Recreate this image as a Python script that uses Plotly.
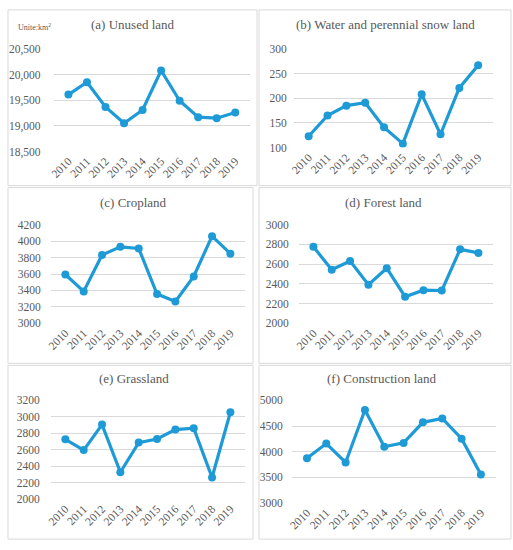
import plotly.graph_objects as go

years = ["2010", "2011", "2012", "2013", "2014", "2015", "2016", "2017", "2018", "2019"]

unused_land = [19610, 19850, 19370, 19050, 19310, 20080, 19490, 19170, 19150, 19260]
water_snow_land = [123, 165, 185, 191, 141, 108, 208, 127, 221, 267]
cropland = [3594, 3388, 3832, 3931, 3911, 3357, 3265, 3570, 4061, 3848]
forest_land = [2776, 2543, 2632, 2391, 2559, 2270, 2336, 2332, 2750, 2714]
grassland = [2727, 2596, 2906, 2326, 2687, 2731, 2846, 2862, 2262, 3057]
construction_land = [3873, 4159, 3790, 4815, 4096, 4172, 4573, 4650, 4255, 3554]

titles = ["(a) Unused land", "(b) Water and perennial snow land", "(c) Cropland",
          "(d) Forest land", "(e) Grassland", "(f) Construction land"]
series = [unused_land, water_snow_land, cropland, forest_land, grassland, construction_land]
y_ranges = [(18500, 20500), (100, 300), (3000, 4200), (2000, 3000), (2000, 3200), (3000, 5000)]
y_dticks = [500, 50, 200, 200, 200, 500]
y_formats = [",", "", "", "", "", ""]

W, H = 513, 550
# plot areas in pixels: (x0, x1, ytop, ybottom)
plot_px = [(50, 248, 44, 149), (292, 493, 44, 145),
           (47, 243, 224, 325), (297, 493, 224, 325),
           (47, 243, 404, 505), (290, 496, 404, 509)]
standoffs = [12, 6, 9, 9, 10, 8]
# panel borders in pixels
panel_px = [(4, 255, 4, 184), (257, 511, 4, 184),
            (4, 251, 186, 366), (257, 511, 186, 366),
            (4, 251, 368, 546), (257, 511, 368, 546)]
title_px = [(130, 19), (384, 19), (131, 201), (382, 201), (131, 382), (381, 382)]

LINE = "#1E9BD7"
GRAY = "#595959"
GRID = "#D9D9D9"
FONT = "Liberation Serif"

fig = go.Figure()
layout = dict(width=W, height=H, margin=dict(l=0, r=0, t=0, b=0),
              paper_bgcolor="white", plot_bgcolor="white", showlegend=False,
              font=dict(family=FONT, color=GRAY, size=11))
shapes = []
annotations = []

for i in range(6):
    n = "" if i == 0 else str(i + 1)
    fig.add_trace(go.Scatter(x=years, y=series[i], mode="lines+markers",
                             line=dict(color=LINE, width=3.2),
                             marker=dict(color=LINE, size=8),
                             xaxis="x" + n, yaxis="y" + n, hoverinfo="skip"))
    x0, x1, yt, yb = plot_px[i]
    layout["xaxis" + n] = dict(domain=[x0 / W, x1 / W], anchor="y" + n, type="category",
                               showgrid=False, showline=False, ticks="", tickangle=-45,
                               tickfont=dict(family=FONT, color=GRAY, size=11.5), zeroline=False)
    layout["yaxis" + n] = dict(domain=[1 - yb / H, 1 - yt / H], anchor="x" + n,
                               range=list(y_ranges[i]), dtick=y_dticks[i], tickformat=y_formats[i],
                               showgrid=True, gridcolor=GRID, gridwidth=1, zeroline=False,
                               showline=False, ticks="", ticklabelstandoff=standoffs[i],
                               tickfont=dict(family=FONT, color=GRAY, size=11.5))
    px0, px1, pyt, pyb = panel_px[i]
    shapes.append(dict(type="rect", xref="paper", yref="paper",
                       x0=px0 / W, x1=px1 / W, y0=1 - pyb / H, y1=1 - pyt / H,
                       line=dict(color=GRID, width=1), fillcolor="rgba(0,0,0,0)"))
    tx, ty = title_px[i]
    annotations.append(dict(text=titles[i], xref="paper", yref="paper", x=tx / W, y=1 - ty / H,
                            xanchor="center", yanchor="middle", showarrow=False,
                            font=dict(family=FONT, color=GRAY, size=13)))

annotations.append(dict(text="Unite:km<sup>2</sup>", xref="paper", yref="paper",
                        x=12 / W, y=1 - 22 / H, xanchor="left", yanchor="middle", showarrow=False,
                        font=dict(family=FONT, color=GRAY, size=8)))
layout["shapes"] = shapes
layout["annotations"] = annotations
fig.update_layout(**layout)
fig.write_html("out.html", config={"displayModeBar": False},
               post_script="document.body.style.margin='0';document.body.style.padding='0';")
